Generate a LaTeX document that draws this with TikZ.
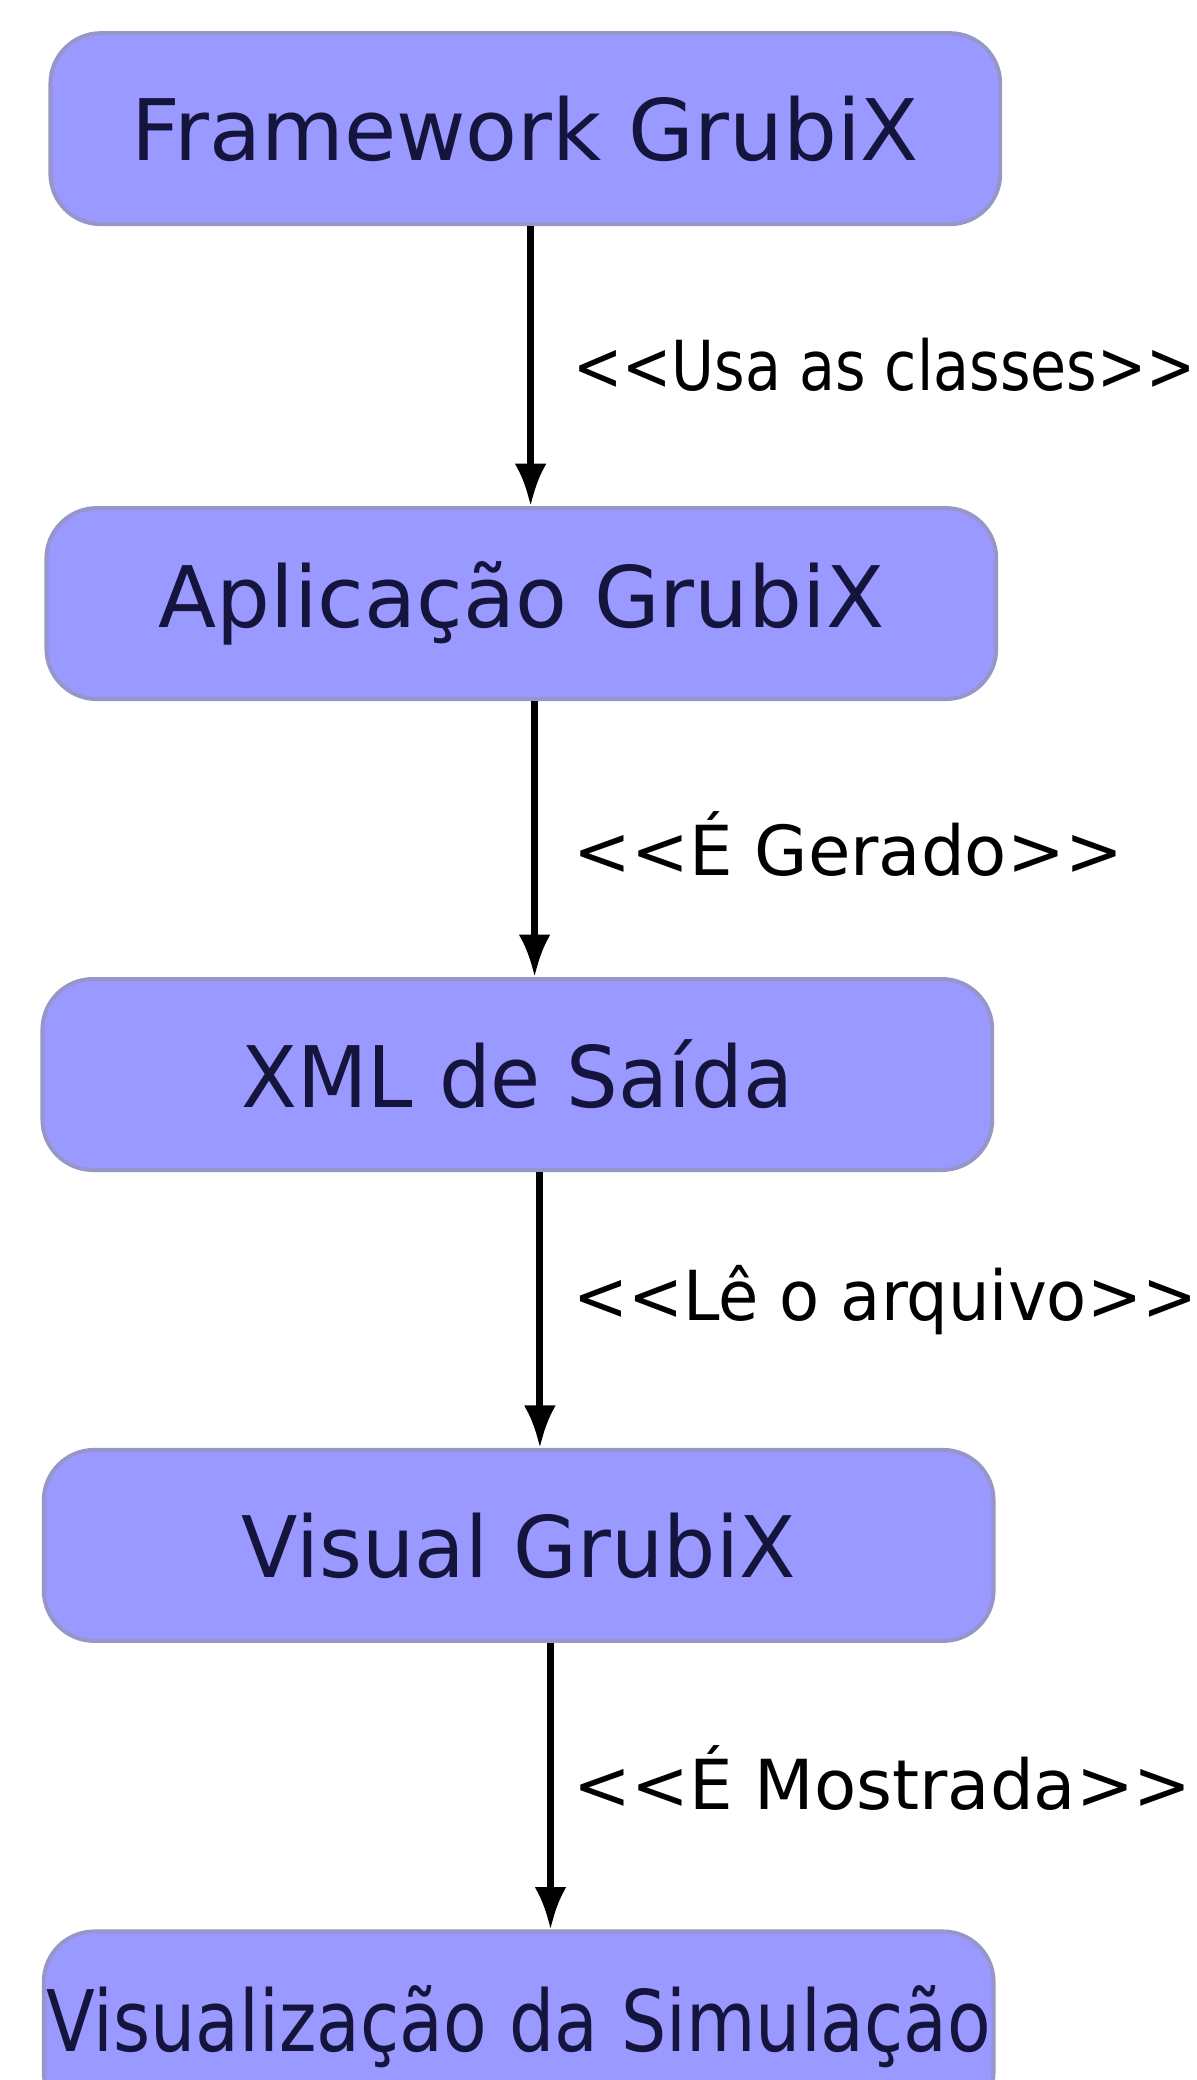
\documentclass[tikz,border=0pt]{standalone}
\usepackage{fontspec}
\setmainfont{DejaVu Sans}
\usetikzlibrary{arrows.meta}

\begin{document}
\begin{tikzpicture}[x=0.5pt,y=-0.5pt,
  etapa/.style={draw=bordaEtapa, line width=1.5pt, fill=corEtapa, rounded corners=19pt,
    minimum width=358pt, minimum height=72pt, inner sep=0pt, text=textoEtapa,
    font=\fontsize{32}{38}\selectfont},
  fluxo/.style={-{Latex[length=16pt,width=12pt]}, line width=2.6pt},
  rotulo/.style={anchor=west, inner sep=0pt, font=\fontsize{26}{31}\selectfont}]
  % Cores
  \definecolor{corEtapa}{RGB}{153,153,255}
  \definecolor{bordaEtapa}{RGB}{150,150,200}
  \definecolor{textoEtapa}{RGB}{20,20,60}

  % Moldura da figura
  \useasboundingbox (0,0) rectangle (902,1568);
  \fill[white] (0,0) rectangle (902,1568);

  % Etapas do fluxo
  \node[etapa] (framework) at (396,97) {Framework GrubiX};
  \node[etapa] (aplicacao) at (393,455) {Aplicação GrubiX};
  \node[etapa] (xml) at (390,810) {\scalebox{0.96}[1]{XML de Saída}};
  \node[etapa] (visual) at (391,1165) {\scalebox{0.97}[1]{Visual GrubiX}};
  \node[etapa] (simulacao) at (391,1528) {\scalebox{0.84}[1]{Visualização da Simulação}};

  % Setas entre as etapas
  \draw[fluxo] ([xshift=2pt]framework.south) -- ([xshift=3.5pt]aplicacao.north);
  \draw[fluxo] ([xshift=5pt]aplicacao.south) -- ([xshift=6.5pt]xml.north);
  \draw[fluxo] ([xshift=8.5pt]xml.south) -- ([xshift=8pt]visual.north);
  \draw[fluxo] ([xshift=12pt]visual.south) -- ([xshift=12pt]simulacao.north);

  % Rotulos das setas
  \node[rotulo] (usa) at (432,275) {\scalebox{0.85}[1]{{<}{<}Usa as classes{>}{>}}};
  \node[rotulo] (gerado) at (432,636) {{<}{<}É Gerado{>}{>}};
  \node[rotulo] (le) at (432,980) {\scalebox{0.95}[1]{{<}{<}Lê o arquivo{>}{>}}};
  \node[rotulo] (mostrada) at (432,1340) {{<}{<}É Mostrada{>}{>}};
\end{tikzpicture}
\end{document}
